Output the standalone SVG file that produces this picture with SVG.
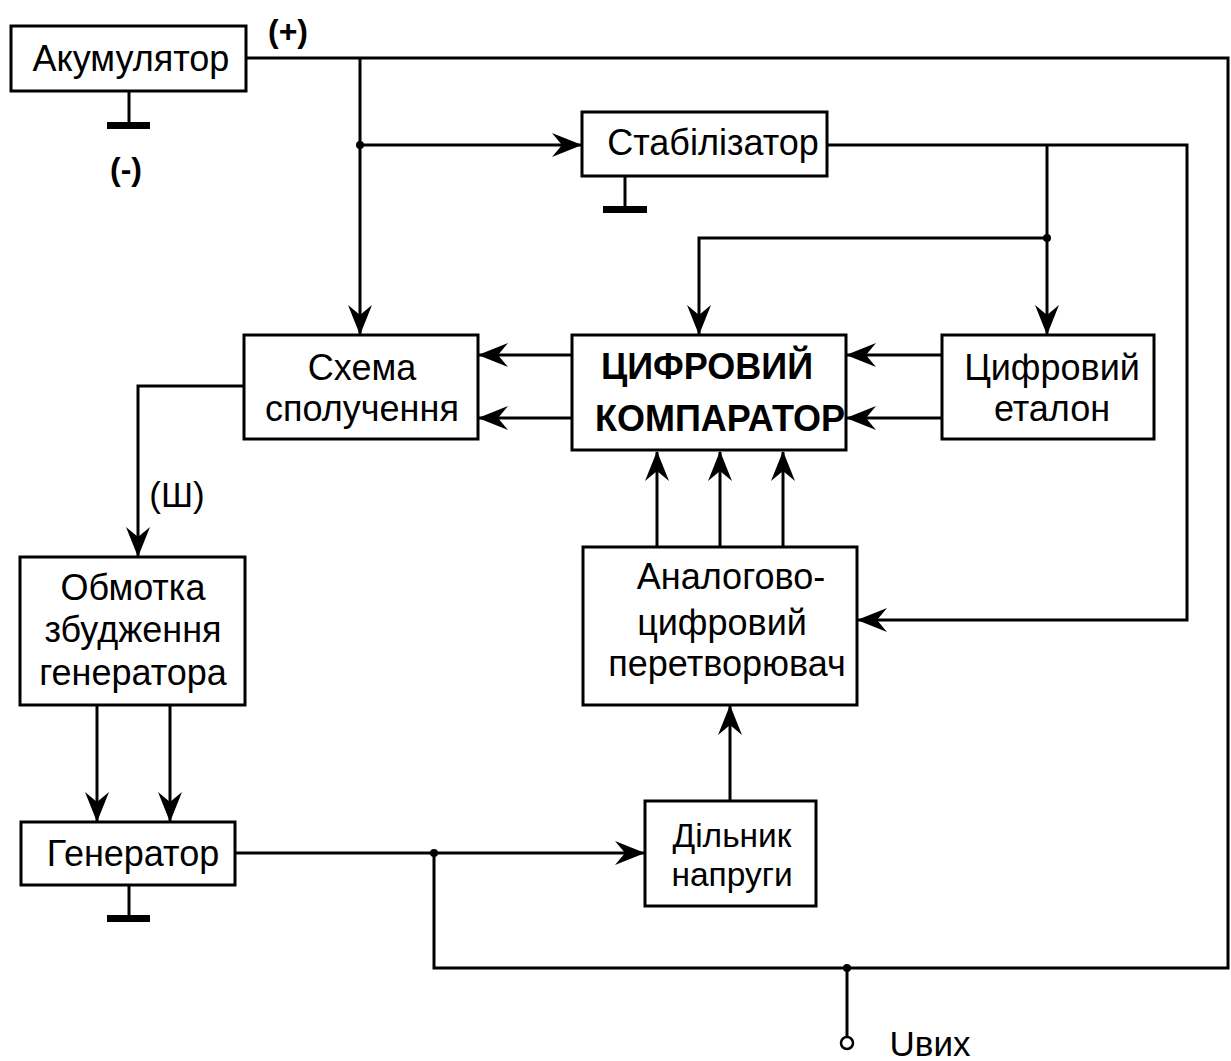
<svg xmlns="http://www.w3.org/2000/svg" width="1231" height="1061" viewBox="0 0 1231 1061">
  <style>
    .box { fill: #fff; stroke: #000; stroke-width: 3; }
    .wire { fill: none; stroke: #000; stroke-width: 3; }
    .arr { fill: none; stroke: #000; stroke-width: 3; marker-end: url(#barb); }
    .lbl { font-family: "Liberation Sans", Arial, sans-serif; font-size: 36px; fill: #000; text-anchor: middle; }
    .sm { font-size: 35px; }
    .tight { font-size: 33.5px; }
    .sign { font-size: 32px; font-weight: bold; }
    .bold { font-weight: bold; }
    .dot { fill: #000; }
  </style>
  <defs>
    <marker id="barb" markerUnits="userSpaceOnUse" markerWidth="32" markerHeight="24" refX="30" refY="12" orient="auto" overflow="visible">
      <path d="M31,12 L1,0 L11,12 L1,24 Z" fill="#000"/>
    </marker>
  </defs>

  <!-- wiring -->
  <g id="connectors">
    <path class="wire" d="M246,58 H1228 V968 H434 V853"/>
    <path class="arr" d="M360,58 V334"/>
    <path class="arr" d="M360,145 H581"/>
    <path class="arr" d="M827,145 H1187 V620 H858"/>
    <path class="arr" d="M1047,145 V334"/>
    <path class="arr" d="M1047,238 H699 V334"/>
    <path class="arr" d="M572,355 H479"/>
    <path class="arr" d="M572,418 H479"/>
    <path class="arr" d="M941,355 H847"/>
    <path class="arr" d="M941,418 H847"/>
    <path class="arr" d="M657,547 V452"/>
    <path class="arr" d="M720,547 V452"/>
    <path class="arr" d="M783,547 V452"/>
    <path class="arr" d="M730,801 V706"/>
    <path class="arr" d="M235,853 H644"/>
    <path class="arr" d="M244,386 H138 V556"/>
    <path class="arr" d="M97,706 V821"/>
    <path class="arr" d="M170,706 V821"/>
    <path class="wire" d="M847,968 V1037"/>
    <circle cx="847" cy="1043" r="6" fill="#fff" stroke="#000" stroke-width="2.5"/>
    <circle class="dot" cx="360" cy="145" r="4"/>
    <circle class="dot" cx="1047" cy="238" r="4"/>
    <circle class="dot" cx="434" cy="853" r="4"/>
    <circle class="dot" cx="847" cy="968" r="4"/>
    <!-- ground symbols -->
    <path class="wire" d="M129,91 V124"/>
    <rect x="107" y="122" width="43" height="7" fill="#000"/>
    <path class="wire" d="M625,176 V207"/>
    <rect x="603" y="206" width="44" height="7" fill="#000"/>
    <path class="wire" d="M129,885 V917"/>
    <rect x="107" y="915" width="43" height="7" fill="#000"/>
  </g>

  <g id="battery">
    <rect class="box" x="11" y="26" width="235" height="65"/>
    <text class="lbl" x="131" y="71">Акумулятор</text>
  </g>
  <text class="lbl sign" x="288" y="42">(+)</text>
  <text class="lbl sign" x="126" y="180">(-)</text>

  <g id="stabilizer">
    <rect class="box" x="582" y="112" width="245" height="64"/>
    <text class="lbl" x="713" y="155">Стабілізатор</text>
  </g>

  <g id="coupling">
    <rect class="box" x="244" y="335" width="234" height="104"/>
    <text class="lbl" x="362" y="380">Схема</text>
    <text class="lbl" x="362" y="421">сполучення</text>
  </g>

  <g id="comparator">
    <rect class="box" x="572" y="335" width="274" height="115"/>
    <text class="lbl bold" x="707" y="379">ЦИФРОВИЙ</text>
    <text class="lbl bold" x="720" y="431">КОМПАРАТОР</text>
  </g>

  <g id="reference">
    <rect class="box" x="942" y="335" width="212" height="104"/>
    <text class="lbl" x="1052" y="380">Цифровий</text>
    <text class="lbl" x="1052" y="421">еталон</text>
  </g>

  <g id="adc">
    <rect class="box" x="583" y="547" width="274" height="158"/>
    <text class="lbl" x="731" y="589">Аналогово-</text>
    <text class="lbl" x="722" y="635">цифровий</text>
    <text class="lbl" x="727" y="676">перетворювач</text>
  </g>

  <g id="field-winding">
    <rect class="box" x="20" y="557" width="225" height="148"/>
    <text class="lbl" x="133" y="600">Обмотка</text>
    <text class="lbl" x="133" y="642">збудження</text>
    <text class="lbl" x="133" y="685">генератора</text>
  </g>
  <text class="lbl sm" x="177" y="507">(Ш)</text>

  <g id="generator">
    <rect class="box" x="21" y="822" width="214" height="63"/>
    <text class="lbl" x="133" y="866">Генератор</text>
  </g>

  <g id="divider">
    <rect class="box" x="645" y="801" width="171" height="105"/>
    <text class="lbl tight" x="732" y="847">Дільник</text>
    <text class="lbl tight" x="732" y="886">напруги</text>
  </g>

  <text class="lbl sm" x="930" y="1056">Uвих</text>
</svg>
